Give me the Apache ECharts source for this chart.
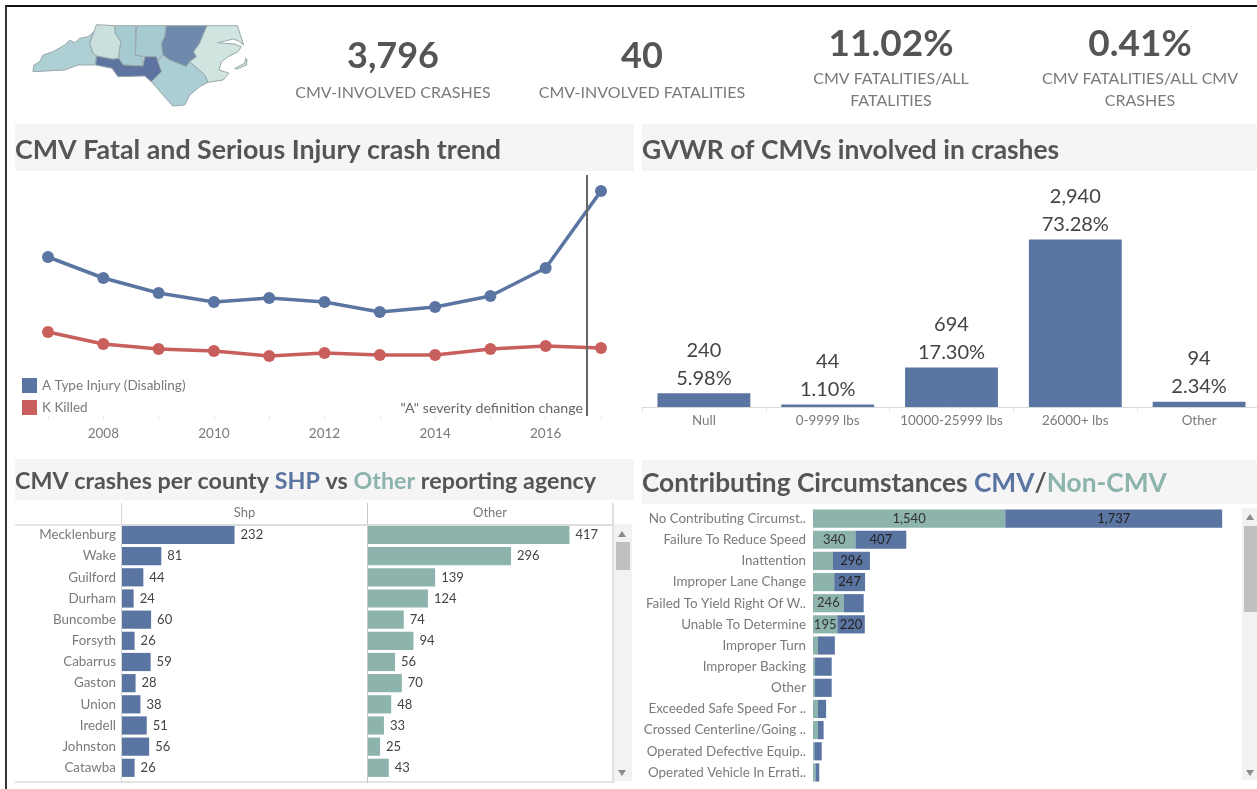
<!DOCTYPE html>
<html>
<head>
<meta charset="utf-8">
<title>CMV crashes</title>
<script src="https://cdn.jsdelivr.net/npm/echarts@6/dist/echarts.min.js"></script>
<style>
html, body { margin: 0; padding: 0; background: #fff; overflow: hidden; }
/* last gvwr band runs a few px past the window edge */
#chart { width: 1270px; height: 789px; }
</style>
</head>
<body>
<div id="chart"></div>
<script>
// map regions, outline
const regionNames = ['West', 'Northwest', 'North A', 'North B', 'Northeast A', 'East', 'Southeast', 'Central'];
const regionValues = [40, 12, 50, 50, 88, 3, 44, 100];
const regionShapes = [
    [[[33.3, 70.7], [34.3, 65], [40, 61.7], [43.3, 55], [53.3, 51.7], [65, 45], [70, 40], [75, 42.7], [80, 38.3], [88.3, 36.7], [94.3, 31.7], [90, 43.3], [93.3, 53.3], [96.7, 56], [96, 65], [78.3, 65], [65, 70], [33.3, 71.7]]],
    [[[96.7, 24.7], [115, 25.7], [115.7, 33.3], [121, 41.7], [119, 58.3], [113.3, 59.3], [96.7, 56], [93.3, 53.3], [90, 43.3], [94.3, 31.7]]],
    [[[115, 25.7], [136, 25.7], [135.7, 55], [143.3, 56.7], [143.3, 66], [123.3, 65], [119, 58.3], [121, 41.7], [115.7, 33.3]]],
    [[[137, 25.7], [166.7, 25.7], [165, 36.7], [161.7, 43.3], [163.3, 55], [157.3, 61.7], [153.3, 56.7], [145, 56.7], [135.7, 55]]],
    [[[166.7, 25.7], [207.3, 25.7], [203.3, 35], [200, 43.3], [194, 51.7], [196.7, 56.7], [190, 61.7], [186.7, 66.7], [170, 60], [163.3, 55], [161.7, 43.3], [165, 36.7]]],
    [[[207.3, 25.7], [237.7, 25.7], [240, 33], [244, 45], [238.3, 40.7], [233.3, 39], [226.7, 40.7], [217.7, 42.7], [225, 43.3], [235, 44], [241.7, 46.7], [238.3, 51.7], [228.3, 56.7], [221.7, 61.7], [219.3, 70], [225, 71.7], [229.3, 73.3], [223.3, 80], [208.3, 82.3], [205, 75], [190, 61.7], [196.7, 56.7], [194, 51.7], [200, 43.3], [203.3, 35]],
     [[235, 68.3], [245, 63.3], [246, 58.3], [247.3, 59.3], [246.7, 65], [236.7, 69.3]]],
    [[[163.3, 55], [170, 60], [186.7, 66.7], [190, 61.7], [205, 75], [208.3, 82.3], [200, 86.7], [190, 95], [185, 105], [173, 106], [151.7, 81.7], [161.7, 71.7], [157.3, 61.7]]],
    [[[96.7, 56], [113.3, 59.3], [119, 58.3], [123.3, 65], [143.3, 66], [145, 56.7], [156.7, 56.7], [161.7, 71.7], [151.7, 81.7], [145, 76], [118.3, 76.7], [112.3, 68.3], [96, 65]]]
];

// kpi row
const kpiValues = ['3,796', '40', '11.02%', '0.41%'];
const kpiLabels = ['CMV-INVOLVED CRASHES', 'CMV-INVOLVED FATALITIES', 'CMV FATALITIES/ALL\nFATALITIES', 'CMV FATALITIES/ALL CMV\nCRASHES'];

// trend
const years = [2007, 2008, 2009, 2010, 2011, 2012, 2013, 2014, 2015, 2016, 2017];
const injuryA = [159, 138, 123, 114, 118, 114, 104, 109, 120, 148, 225];
const killedK = [84, 72, 67, 65, 60, 63, 61, 61, 67, 70, 68];
const severityChangeYear = 2016.75;

// gvwr
const gvwrNames = ['Null', '0-9999 lbs', '10000-25999 lbs', '26000+ lbs', 'Other'];
const gvwrCounts = [240, 44, 694, 2940, 94];
const gvwrShare = ['5.98%', '1.10%', '17.30%', '73.28%', '2.34%'];

// counties
const counties = ['Mecklenburg', 'Wake', 'Guilford', 'Durham', 'Buncombe', 'Forsyth', 'Cabarrus', 'Gaston', 'Union', 'Iredell', 'Johnston', 'Catawba'];
const shpCrashes = [232, 81, 44, 24, 60, 26, 59, 28, 38, 51, 56, 26];
const otherCrashes = [417, 296, 139, 124, 74, 94, 56, 70, 48, 33, 25, 43];

// contributing circumstances
const circumstances = ['No Contributing Circumst..', 'Failure To Reduce Speed', 'Inattention', 'Improper Lane Change', 'Failed To Yield Right Of W..', 'Unable To Determine', 'Improper Turn', 'Improper Backing', 'Other', 'Exceeded Safe Speed For ..', 'Crossed Centerline/Going ..', 'Operated Defective Equip..', 'Operated Vehicle In Errati..'];
const nonCmv = [1540, 340, 160, 170, 246, 195, 40, 15, 15, 40, 40, 10, 20];
const cmv = [1737, 407, 296, 247, 160, 220, 135, 135, 135, 65, 45, 60, 30];

const BLUE = '#5b75a2';
const TEAL = '#8db3ad';
const RED = '#c95f5c';
const FONT = 'Lato';
const GREY = '#7a7a7a';

echarts.registerMap('nc', {
    type: 'FeatureCollection',
    features: regionNames.map((name, i) => ({
        type: 'Feature',
        properties: { name },
        geometry: {
            type: 'MultiPolygon',
            coordinates: regionShapes[i].map(ring => [ring.map(p => [p[0], -p[1]])])
        }
    }))
});

function bandTitle(text, left, top, fontSize) {
    return {
        text,
        left,
        top,
        textStyle: {
            rich: {
                a: { fontFamily: FONT, fontWeight: 'bold', fontSize, color: '#555' },
                b: { fontFamily: FONT, fontWeight: 'bold', fontSize, color: BLUE },
                c: { fontFamily: FONT, fontWeight: 'bold', fontSize, color: TEAL }
            }
        },
        padding: 0
    };
}

function kpiTitle(i, x, valueY, labelY, fontSize) {
    return [
        { text: kpiValues[i], left: x, top: valueY, textAlign: 'center', padding: 0,
          textStyle: { fontFamily: FONT, fontWeight: 'bold', fontSize, color: '#555' } },
        { text: kpiLabels[i], left: x, top: labelY, textAlign: 'center', padding: 0,
          textStyle: { fontFamily: FONT, fontWeight: 'normal', fontSize: 16, color: GREY, lineHeight: 22 } }
    ];
}

function box(x, y, width, height, fill) {
    return { type: 'rect', shape: { x, y, width, height }, style: { fill }, silent: true };
}

function triangle(x, y, up) {
    const d = up ? -3 : 3;
    return { type: 'polygon', shape: { points: [[x - 4, y - d], [x + 4, y - d], [x, y + d]] }, style: { fill: '#8a8a8a' }, silent: true };
}

const chart = echarts.init(document.getElementById('chart'));

const option = {
    animation: false,
    backgroundColor: '#fff',
    title: [
        ...kpiTitle(0, 393, 38, 82, 36),
        ...kpiTitle(1, 642, 38, 82, 36),
        ...kpiTitle(2, 891, 26, 68, 37),
        ...kpiTitle(3, 1140, 26, 68, 37),
        bandTitle('{a|CMV Fatal and Serious Injury crash trend}', 15, 137, 26.8),
        bandTitle('{a|GVWR of CMVs involved in crashes}', 642, 137, 26.4),
        bandTitle('{a|CMV crashes per county }{b|SHP}{a| vs }{c|Other}{a| reporting agency}', 15, 470, 23.3),
        bandTitle('{a|Contributing Circumstances }{b|CMV}{a|/}{c|Non-CMV}', 642, 471, 26.3)
    ],
    legend: {
        left: 22,
        top: 378,
        orient: 'vertical',
        icon: 'rect',
        itemWidth: 15,
        itemHeight: 15,
        itemGap: 7,
        padding: 0,
        data: ['A Type Injury (Disabling)', 'K Killed'],
        textStyle: { fontFamily: FONT, fontSize: 13.5, color: GREY }
    },
    visualMap: {
        show: false,
        seriesIndex: 0,
        min: 0,
        max: 100,
        inRange: { color: ['#d4e7e1', '#a5cad2', '#5c749f'] }
    },
    grid: [
        { left: 48, top: 175, width: 553, height: 241 },
        { left: 642, top: 179, width: 619, height: 228 },
        { left: 122, top: 524.4, width: 245, height: 254 },
        { left: 368, top: 524.4, width: 244, height: 254 },
        { left: 813, top: 508, width: 427, height: 275 }
    ],
    xAxis: [
        {
            gridIndex: 0, type: 'value', min: 2007, max: 2017, interval: 1,
            axisLine: { show: false },
            axisTick: { show: true, length: 3, lineStyle: { color: '#e2e2e2' } },
            splitLine: { show: false },
            axisLabel: {
                margin: 11, fontFamily: FONT, fontSize: 13.5, color: GREY, hideOverlap: false, showMinLabel: true, showMaxLabel: true,
                formatter: v => (v % 2 === 0 ? String(v) : '')
            }
        },
        {
            gridIndex: 1, type: 'category', data: gvwrNames,
            axisLine: { lineStyle: { color: '#d9d9d9' } },
            axisTick: { show: true, alignWithLabel: false, lineStyle: { color: '#e2e2e2' } },
            axisLabel: { margin: 7, fontFamily: FONT, fontSize: 13.4, color: GREY, interval: 0 }
        },
        {
            gridIndex: 2, type: 'value', position: 'top', min: 0, max: 505,
            name: 'Shp', nameLocation: 'middle', nameGap: 5,
            nameTextStyle: { fontFamily: FONT, fontSize: 13, color: GREY },
            axisLine: { show: true, lineStyle: { color: '#dcdcdc', width: 2 } },
            axisTick: { show: false }, axisLabel: { show: false }, splitLine: { show: false }
        },
        {
            gridIndex: 3, type: 'value', position: 'top', min: 0, max: 505,
            name: 'Other', nameLocation: 'middle', nameGap: 5,
            nameTextStyle: { fontFamily: FONT, fontSize: 13, color: GREY },
            axisLine: { show: true, lineStyle: { color: '#dcdcdc', width: 2 } },
            axisTick: { show: false }, axisLabel: { show: false }, splitLine: { show: false }
        },
        {
            gridIndex: 4, type: 'value', min: 0, max: 3420, show: false
        }
    ],
    yAxis: [
        { gridIndex: 0, type: 'value', min: 0, max: 241, show: false },
        { gridIndex: 1, type: 'value', min: 0, max: 4000, show: false },
        {
            gridIndex: 2, type: 'category', data: counties, inverse: true,
            axisLine: { show: false },
            axisTick: { show: false },
            axisLabel: { margin: 6, fontFamily: FONT, fontSize: 13.4, color: GREY, interval: 0 }
        },
        {
            gridIndex: 3, type: 'category', data: counties, inverse: true,
            axisLine: { show: false }, axisTick: { show: false }, axisLabel: { show: false }
        },
        {
            gridIndex: 4, type: 'category', data: circumstances, inverse: true,
            axisLine: { show: false },
            axisTick: { show: false },
            axisLabel: { margin: 7, fontFamily: FONT, fontSize: 13.4, color: GREY, interval: 0 }
        }
    ],
    series: [
        {
            type: 'map', map: 'nc', silent: true, aspectScale: 1, roam: false, showLegendSymbol: false,
            left: 33, top: 24.7, width: 214, height: 81.3,
            data: regionNames.map((name, i) => ({ name, value: regionValues[i] })),
            itemStyle: { borderColor: '#9aa8ab', borderWidth: 1 },
            label: { show: false }
        },
        {
            name: 'A Type Injury (Disabling)', type: 'line', xAxisIndex: 0, yAxisIndex: 0, clip: false,
            data: years.map((y, i) => [y, injuryA[i]]),
            symbol: 'circle', symbolSize: 12,
            lineStyle: { color: BLUE, width: 3.5 }, itemStyle: { color: BLUE },
            markLine: {
                silent: true, symbol: 'none', animation: false,
                label: { show: false },
                lineStyle: { color: '#666', width: 2, type: 'solid' },
                data: [{ xAxis: severityChangeYear }]
            }
        },
        {
            name: 'K Killed', type: 'line', xAxisIndex: 0, yAxisIndex: 0, clip: false,
            data: years.map((y, i) => [y, killedK[i]]),
            symbol: 'circle', symbolSize: 12,
            lineStyle: { color: RED, width: 3.5 }, itemStyle: { color: RED }
        },
        {
            type: 'bar', xAxisIndex: 1, yAxisIndex: 1, barWidth: '75%',
            data: gvwrCounts,
            itemStyle: { color: BLUE },
            label: {
                show: true, position: 'top', distance: 1,
                fontFamily: FONT, fontSize: 20, lineHeight: 28, color: '#444',
                formatter: p => p.value.toLocaleString('en-US') + '\n' + gvwrShare[p.dataIndex]
            }
        },
        {
            type: 'bar', xAxisIndex: 2, yAxisIndex: 2, barWidth: '86%',
            data: shpCrashes,
            itemStyle: { color: BLUE },
            label: { show: true, position: 'right', distance: 6, fontFamily: FONT, fontSize: 13, color: '#444' }
        },
        {
            type: 'bar', xAxisIndex: 3, yAxisIndex: 3, barWidth: '86%',
            data: otherCrashes,
            itemStyle: { color: TEAL },
            label: { show: true, position: 'right', distance: 6, fontFamily: FONT, fontSize: 13, color: '#444' }
        },
        {
            type: 'bar', xAxisIndex: 4, yAxisIndex: 4, stack: 'circ', barWidth: '86%',
            data: nonCmv,
            itemStyle: { color: TEAL },
            label: {
                show: true, position: 'inside', fontFamily: FONT, fontSize: 13, color: '#333',
                formatter: p => (p.value >= 190 ? p.value.toLocaleString('en-US') : '')
            }
        },
        {
            type: 'bar', xAxisIndex: 4, yAxisIndex: 4, stack: 'circ', barWidth: '86%',
            data: cmv,
            itemStyle: { color: BLUE },
            label: {
                show: true, position: 'inside', fontFamily: FONT, fontSize: 13, color: '#222',
                formatter: p => (p.value >= 190 ? p.value.toLocaleString('en-US') : '')
            }
        }
    ],
    graphic: [
        // frame
        box(5, 5, 1252, 2, '#111'),
        box(5, 5, 2, 784, '#333'),
        // title bands
        box(15, 124, 619, 47, '#f5f5f5'),
        box(642, 124, 615, 47, '#f5f5f5'),
        box(15, 459, 619, 41, '#f5f5f5'),
        box(642, 460, 615, 44, '#f5f5f5'),
        // county table rules
        box(15, 524, 107, 2, '#e4e4e4'),
        box(15, 781, 600, 2, '#e4e4e4'),
        box(121, 503, 1, 280, '#d8d8d8'),
        box(367, 503, 1, 280, '#c8c8c8'),
        box(612, 503, 2, 280, '#e0e0e0'),
        // scrollbars
        box(614, 524, 18, 257, '#f2f2f2'),
        box(616, 542, 14, 28, '#c0c0c0'),
        triangle(622, 534, true),
        triangle(622, 773, false),
        box(1242, 508, 15, 272, '#f2f2f2'),
        box(1244, 526, 13, 86, '#c0c0c0'),
        triangle(1250, 517, true),
        triangle(1250, 773, false),
        {
            type: 'text', silent: true, x: 583, y: 401,
            style: { text: '"A" severity definition change', align: 'right', fontFamily: FONT, fontSize: 14.2, fill: '#666' }
        }
    ]
};

chart.setOption(option);
</script>
</body>
</html>
